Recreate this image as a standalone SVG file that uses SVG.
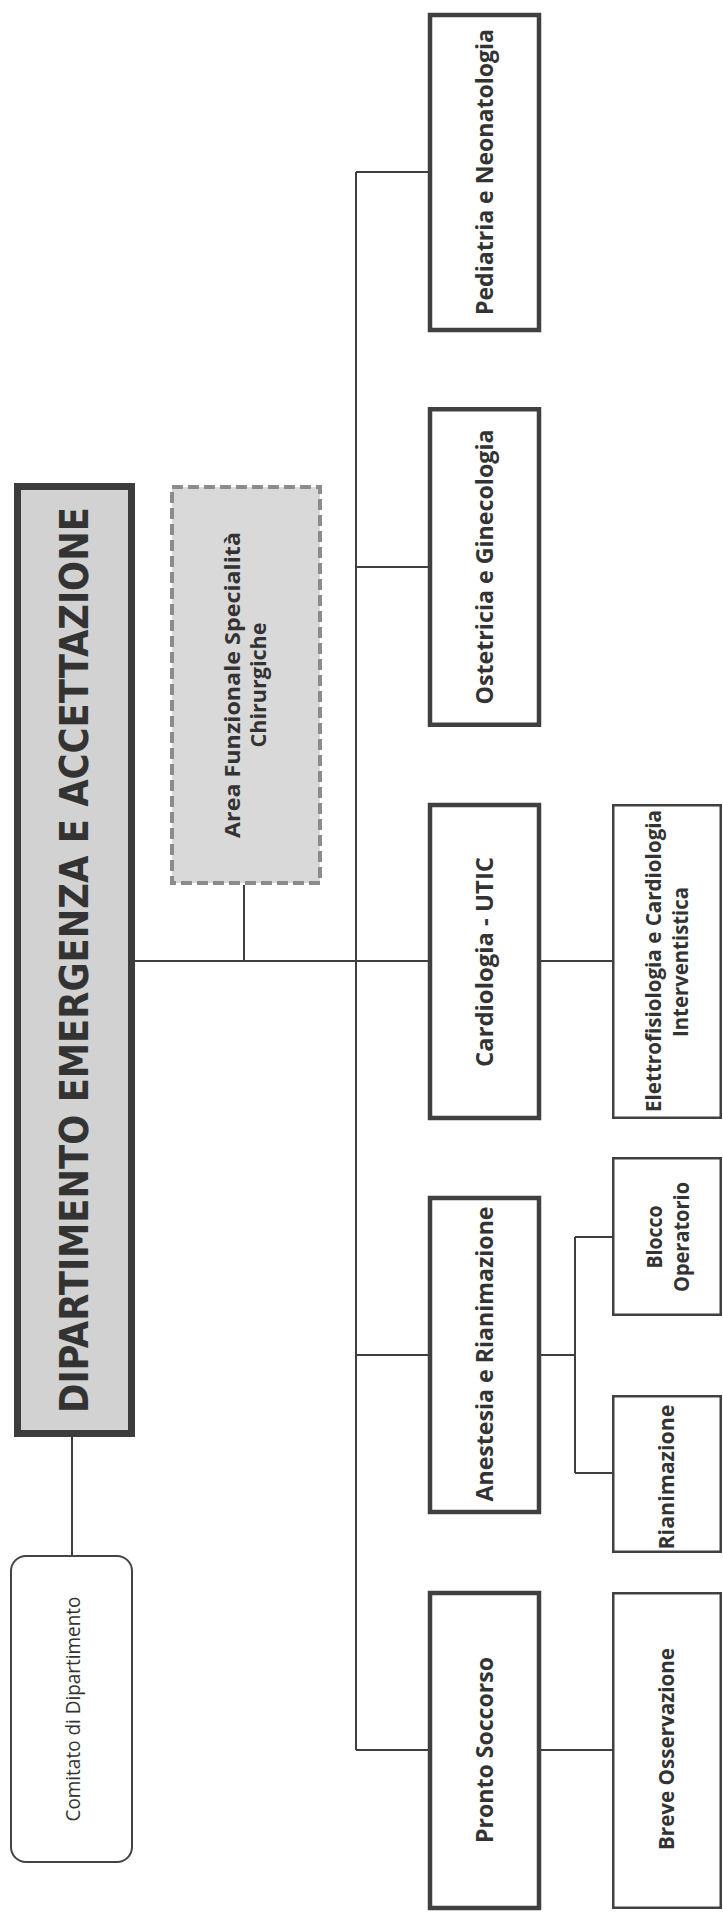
<svg xmlns="http://www.w3.org/2000/svg" width="723" height="1919" viewBox="0 0 723 1919">
<style>
.bg{fill:#ffffff}
.conn line{stroke:#3f3f3f;stroke-width:2;fill:none}
.main{fill:#d2d2d2;stroke:#3c3c3c;stroke-width:7}
.area{fill:#d9d9d9;stroke:#8c8c8c;stroke-width:4;stroke-dasharray:11 5}
.unit{fill:#ffffff;stroke:#404040;stroke-width:4.5}
.sub{fill:#ffffff;stroke:#404040;stroke-width:2.5}
.com{fill:#ffffff;stroke:#444444;stroke-width:2}
.t{font-family:"Open Sans","Liberation Sans",sans-serif;font-weight:bold;fill:#333333;text-anchor:middle}
.tt{font-family:"DejaVu Sans Condensed","Liberation Sans Narrow","DejaVu Sans",sans-serif;font-weight:bold;fill:#333333;text-anchor:middle;font-size:39px}
.tc{font-family:"Open Sans","Liberation Sans",sans-serif;font-weight:normal;fill:#333333;text-anchor:middle;font-size:20px}
</style>
<rect class="bg" x="0" y="0" width="723" height="1919"/>
<g id="connectors" class="conn">
<line x1="135" y1="961" x2="429" y2="961"/>
<line x1="244" y1="885" x2="244" y2="961"/>
<line x1="356" y1="172" x2="356" y2="1750"/>
<line x1="356" y1="172" x2="429" y2="172"/>
<line x1="356" y1="567" x2="429" y2="567"/>
<line x1="356" y1="1355" x2="429" y2="1355"/>
<line x1="356" y1="1750" x2="429" y2="1750"/>
<line x1="541" y1="961" x2="613" y2="961"/>
<line x1="541" y1="1355" x2="575" y2="1355"/>
<line x1="575" y1="1237" x2="575" y2="1473"/>
<line x1="575" y1="1237" x2="613" y2="1237"/>
<line x1="575" y1="1473" x2="613" y2="1473"/>
<line x1="541" y1="1750" x2="613" y2="1750"/>
<line x1="72" y1="1437" x2="72" y2="1555"/>
</g>
<g id="dipartimento">
<rect class="main" x="17.5" y="486.5" width="114" height="947"/>
<text class="tt" transform="translate(74,960) rotate(-90)" x="0" y="14" textLength="906" lengthAdjust="spacingAndGlyphs">DIPARTIMENTO EMERGENZA E ACCETTAZIONE</text>
</g>
<g id="area-funzionale">
<rect class="area" x="172" y="487" width="148" height="396"/>
<text class="t" font-size="22" transform="translate(246,685) rotate(-90)" x="0" y="-6" textLength="306" lengthAdjust="spacingAndGlyphs">Area Funzionale Specialità</text>
<text class="t" font-size="22" transform="translate(246,685) rotate(-90)" x="0" y="20" textLength="125" lengthAdjust="spacingAndGlyphs">Chirurgiche</text>
</g>
<g id="pediatria">
<rect class="unit" x="430" y="15" width="109" height="315"/>
<text class="t" font-size="23" transform="translate(485,172) rotate(-90)" x="0" y="8" textLength="286" lengthAdjust="spacingAndGlyphs">Pediatria e Neonatologia</text>
</g>
<g id="ostetricia">
<rect class="unit" x="430" y="409.25" width="109" height="315.5"/>
<text class="t" font-size="23" transform="translate(485,567) rotate(-90)" x="0" y="8" textLength="275" lengthAdjust="spacingAndGlyphs">Ostetricia e Ginecologia</text>
</g>
<g id="cardiologia">
<rect class="unit" x="430" y="805" width="109" height="313"/>
<text class="t" font-size="23" transform="translate(485,962) rotate(-90)" x="0" y="8" textLength="210" lengthAdjust="spacingAndGlyphs">Cardiologia - UTIC</text>
</g>
<g id="anestesia">
<rect class="unit" x="430" y="1198" width="109" height="314"/>
<text class="t" font-size="23" transform="translate(485,1354) rotate(-90)" x="0" y="8" textLength="295" lengthAdjust="spacingAndGlyphs">Anestesia e Rianimazione</text>
</g>
<g id="pronto-soccorso">
<rect class="unit" x="430" y="1593" width="109" height="315"/>
<text class="t" font-size="23" transform="translate(485,1750) rotate(-90)" x="0" y="8" textLength="186" lengthAdjust="spacingAndGlyphs">Pronto Soccorso</text>
</g>
<g id="elettrofisiologia">
<rect class="sub" x="613.25" y="805.25" width="107.5" height="312.5"/>
<text class="t" font-size="21" transform="translate(667,961) rotate(-90)" x="0" y="-6" textLength="302" lengthAdjust="spacingAndGlyphs">Elettrofisiologia e Cardiologia</text>
<text class="t" font-size="21" transform="translate(667,962) rotate(-90)" x="0" y="21" textLength="150" lengthAdjust="spacingAndGlyphs">Interventistica</text>
</g>
<g id="blocco-operatorio">
<rect class="sub" x="613.25" y="1158.25" width="107.5" height="156.5"/>
<text class="t" font-size="21" transform="translate(667,1237) rotate(-90)" x="0" y="-5" textLength="63" lengthAdjust="spacingAndGlyphs">Blocco</text>
<text class="t" font-size="21" transform="translate(667,1237) rotate(-90)" x="0" y="22" textLength="110" lengthAdjust="spacingAndGlyphs">Operatorio</text>
</g>
<g id="rianimazione">
<rect class="sub" x="613.25" y="1396.25" width="107.5" height="155.5"/>
<text class="t" font-size="22" transform="translate(667,1477) rotate(-90)" x="0" y="7" textLength="145" lengthAdjust="spacingAndGlyphs">Rianimazione</text>
</g>
<g id="breve-osservazione">
<rect class="sub" x="613.25" y="1593.25" width="107.5" height="314.5"/>
<text class="t" font-size="22" transform="translate(667,1749) rotate(-90)" x="0" y="7" textLength="202" lengthAdjust="spacingAndGlyphs">Breve Osservazione</text>
</g>
<g id="comitato">
<rect class="com" x="11" y="1556" width="121" height="306" rx="15" ry="15"/>
<text class="tc" transform="translate(72,1709) rotate(-90)" x="0" y="8" textLength="225" lengthAdjust="spacingAndGlyphs">Comitato di Dipartimento</text>
</g>
</svg>
